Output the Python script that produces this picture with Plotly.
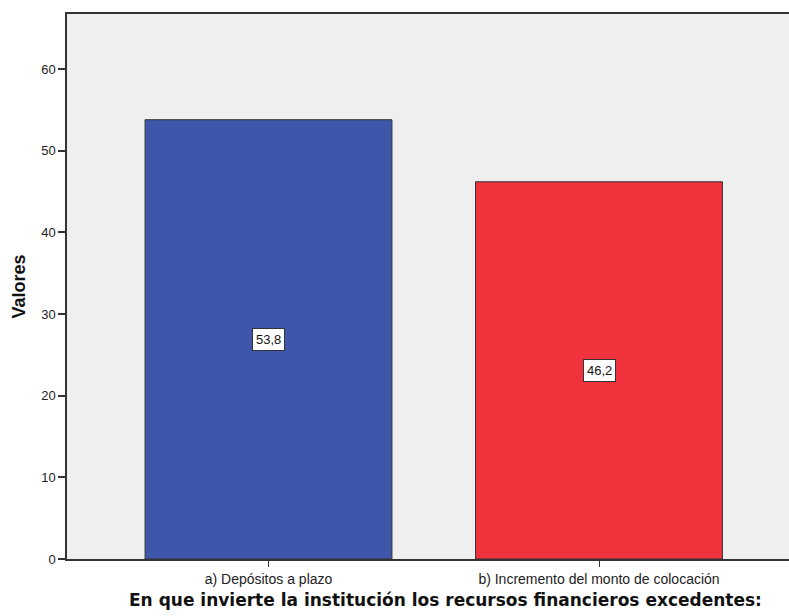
import plotly.graph_objects as go

categories = ["a) Depósitos a plazo", "b) Incremento del monto de colocación"]
values = [53.8, 46.2]
bar_colors = ["#3E57AB", "#EF323B"]
y_ticks = [0, 10, 20, 30, 40, 50, 60]
x_title = "En que invierte la institución los recursos financieros excedentes:"
y_title = "Valores"

FONT = "Liberation Sans, Arial, sans-serif"
TITLE_FONT = "DejaVu Sans, Verdana, sans-serif"
DARK = "#333333"

fig = go.Figure()
fig.add_trace(go.Bar(
    x=[0, 1],
    y=values,
    width=0.747,
    marker=dict(color=bar_colors, line=dict(color=DARK, width=1)),
    hoverinfo="skip",
))

# value labels in white boxes, centred on each bar
for i, v in enumerate(values):
    fig.add_annotation(
        x=i, y=v / 2, xref="x", yref="y",
        text=f"{v:.1f}".replace(".", ","),
        showarrow=False,
        font=dict(family=FONT, size=13, color="#111111"),
        bgcolor="white", bordercolor=DARK, borderwidth=1, borderpad=3,
    )

# category-axis title, placed below the tick labels
fig.add_annotation(
    x=0.524, y=0, xref="paper", yref="paper",
    xanchor="center", yanchor="middle", yshift=-41,
    text=f"<b>{x_title}</b>", showarrow=False,
    font=dict(family=TITLE_FONT, size=17, color="#111111"),
)

# value-axis title, rotated, left of the tick labels
fig.add_annotation(
    x=0, y=0.5, xref="paper", yref="paper",
    xanchor="center", yanchor="middle", xshift=-49,
    text=f"<b>{y_title}</b>", showarrow=False, textangle=-90,
    font=dict(family=FONT, size=18, color="#111111"),
)

fig.update_layout(
    width=789, height=616,
    margin=dict(l=67, r=0, t=14, b=57),
    paper_bgcolor="white",
    plot_bgcolor="#EFEFEF",
    showlegend=False,
    separators=",.",
    font=dict(family=FONT, color=DARK),
    xaxis=dict(
        range=[-0.6097, 1.5749],
        tickmode="array", tickvals=[0, 1], ticktext=categories,
        tickfont=dict(family=FONT, size=14, color="#222222"),
        ticks="outside", ticklen=6, tickwidth=1, tickcolor=DARK,
        showline=True, linecolor=DARK, linewidth=1.5, mirror=True,
        showgrid=False, zeroline=False,
    ),
    yaxis=dict(
        range=[0, 66.75],
        tickmode="array", tickvals=y_ticks,
        tickfont=dict(family=FONT, size=13, color="#222222"),
        ticks="outside", ticklen=7, tickwidth=1.5, tickcolor=DARK,
        showline=True, linecolor=DARK, linewidth=1.5,
        showgrid=False, zeroline=False,
    ),
)

fig.write_html("out.html")
